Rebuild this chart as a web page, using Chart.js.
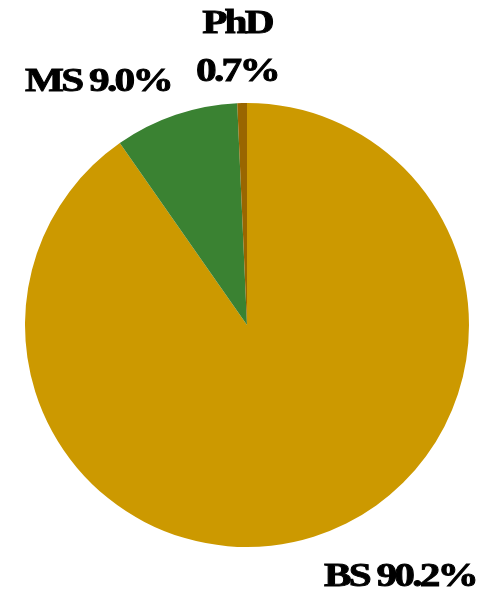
<!DOCTYPE html>
<html>
<head>
<meta charset="utf-8">
<script src="https://cdn.jsdelivr.net/npm/chart.js@4/dist/chart.umd.min.js"></script>
<style>
	html, body { margin: 0; padding: 0; background: #fff; }
	#wrap { width: 486px; height: 595px; }
</style>
</head>
<body>
<div id="wrap"><canvas id="degree-pie"></canvas></div>
<script>
// degree share
const categories = ['BS', 'MS', 'PhD'];
const shares = [90.2, 9.0, 0.7];
const sliceColors = ['#cc9900', '#3a8232', '#996600'];

// label boxes: where each label text sits (canvas px), one entry per category
const labelSpots = {
	BS: { x: 400, y: 586, lines: ['BS 90.2%'] },
	MS: { x: 98, y: 91, lines: ['MS 9.0%'] },
	PhD: { x: 237, y: 33, lines: ['PhD', '0.7%'] }
};

const labelPlugin = {
	id: 'sliceLabels',
	afterDraw(chart) {
		const c = chart.ctx;
		categories.forEach(function (cat) {
			const spot = labelSpots[cat];
			spot.lines.forEach(function (line, i) {
				c.save();
				c.translate(spot.x, spot.y + i * 48);
				c.scale(1.25, 1); // the original text is a bit stretched
				c.font = 'bold 33px "Liberation Serif", "Times New Roman", serif';
				c.fillStyle = '#000';
				c.strokeStyle = '#000';
				c.lineWidth = 0.9;
				c.textAlign = 'center';
				c.textBaseline = 'alphabetic';
				if ('letterSpacing' in c) c.letterSpacing = '-2.2px';
				c.fillText(line, 0, 0);
				c.strokeText(line, 0, 0);
				c.restore();
			});
		});
	}
};

document.addEventListener('DOMContentLoaded', function () {
	const ctx = document.getElementById('degree-pie');
	new Chart(ctx, {
		type: 'pie',
		data: {
			labels: categories,
			datasets: [{
				data: shares,
				backgroundColor: sliceColors,
				borderWidth: 0
			}]
		},
		options: {
			responsive: true,
			maintainAspectRatio: false,
			animation: false,
			layout: { padding: { left: 25, right: 17, top: 103, bottom: 48 } },
			plugins: {
				legend: { display: false },
				tooltip: { enabled: false }
			}
		},
		plugins: [labelPlugin]
	});
});
</script>
</body>
</html>
